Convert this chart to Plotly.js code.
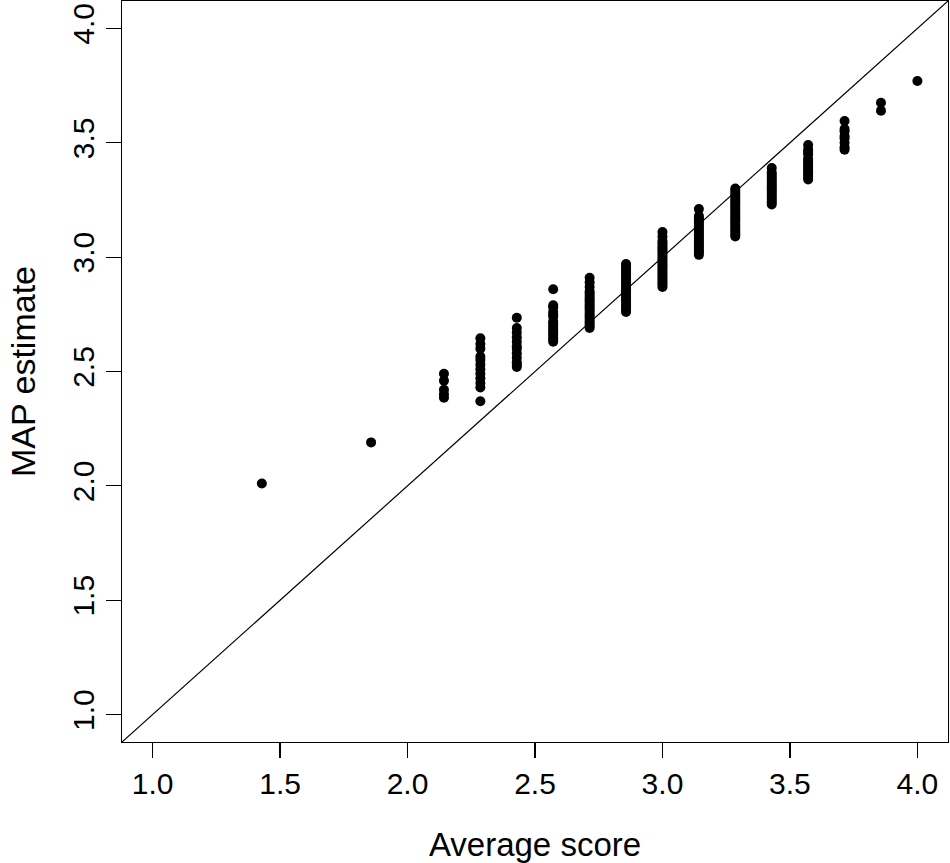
<!DOCTYPE html>
<html>
<head>
<meta charset="utf-8">
<script src="https://cdn.plot.ly/plotly-3.0.1.min.js"></script>
<style>html,body{margin:0;padding:0;background:#fff;}#chart{width:950px;height:863px;}</style>
</head>
<body>
<div id="chart"></div>
<script>
// Average score values (one per column of points)
const avgScore = [1.4286, 1.8571, 2.1429, 2.2857, 2.4286, 2.5714, 2.7143, 2.8571,
                  3.0000, 3.1429, 3.2857, 3.4286, 3.5714, 3.7143, 3.8571, 4.0000];

// MAP estimates for each average score column
const map_1_43 = [2.01];
const map_1_86 = [2.19];
const map_2_14 = [2.49, 2.46, 2.42, 2.40, 2.385];
const map_2_29 = [2.645, 2.62, 2.60, 2.565, 2.55, 2.53, 2.51, 2.49, 2.47, 2.45, 2.43, 2.37];
const map_2_43 = [2.735, 2.69, 2.67, 2.65, 2.63, 2.61, 2.60, 2.58, 2.56, 2.54, 2.53, 2.52];
const map_2_57 = [2.86, 2.79, 2.78, 2.76, 2.75, 2.74, 2.72, 2.71, 2.70, 2.69, 2.68, 2.67, 2.66, 2.65, 2.64, 2.63];
const map_2_71 = [2.91, 2.89, 2.87, 2.85, 2.84, 2.83, 2.82, 2.81, 2.80, 2.79, 2.78, 2.77, 2.76, 2.75, 2.74, 2.73, 2.72, 2.71, 2.70, 2.69];
const map_2_86 = [2.97, 2.96, 2.95, 2.94, 2.93, 2.92, 2.91, 2.90, 2.89, 2.88, 2.87, 2.86, 2.85, 2.84, 2.83, 2.82, 2.81, 2.80, 2.79, 2.78, 2.77, 2.76];
const map_3_00 = [3.11, 3.09, 3.07, 3.06, 3.05, 3.04, 3.03, 3.02, 3.01, 3.00, 2.99, 2.98, 2.97, 2.96, 2.95, 2.94, 2.93, 2.92, 2.91, 2.90, 2.89, 2.88, 2.87];
const map_3_14 = [3.21, 3.18, 3.17, 3.16, 3.15, 3.14, 3.13, 3.12, 3.11, 3.10, 3.09, 3.08, 3.07, 3.06, 3.05, 3.04, 3.03, 3.02, 3.01];
const map_3_29 = [3.30, 3.29, 3.28, 3.27, 3.26, 3.25, 3.24, 3.23, 3.22, 3.21, 3.20, 3.19, 3.18, 3.17, 3.16, 3.15, 3.14, 3.13, 3.12, 3.11, 3.10, 3.09];
const map_3_43 = [3.39, 3.37, 3.36, 3.35, 3.34, 3.33, 3.32, 3.31, 3.30, 3.29, 3.28, 3.27, 3.26, 3.25, 3.24, 3.23];
const map_3_57 = [3.49, 3.47, 3.46, 3.45, 3.43, 3.42, 3.41, 3.40, 3.39, 3.38, 3.37, 3.36, 3.35, 3.34];
const map_3_71 = [3.595, 3.56, 3.55, 3.53, 3.52, 3.50, 3.48, 3.47];
const map_3_86 = [3.675, 3.64];
const map_4_00 = [3.77];

const mapColumns = [map_1_43, map_1_86, map_2_14, map_2_29, map_2_43, map_2_57, map_2_71, map_2_86,
                    map_3_00, map_3_14, map_3_29, map_3_43, map_3_57, map_3_71, map_3_86, map_4_00];

const tickVals = [1.0, 1.5, 2.0, 2.5, 3.0, 3.5, 4.0];
const tickText = ["1.0", "1.5", "2.0", "2.5", "3.0", "3.5", "4.0"];
const axisRange = [0.88, 4.12];
// identity reference line y = x
const identityLine = [0.88, 4.12];

const xs = [], ys = [];
mapColumns.forEach((col, i) => col.forEach(v => { xs.push(avgScore[i]); ys.push(v); }));

const font = "Liberation Sans, Arial, Helvetica, sans-serif";

const traces = [
  {x: identityLine, y: identityLine, mode: 'lines', type: 'scatter',
   line: {color: '#000', width: 1.2}, hoverinfo: 'skip'},
  {x: xs, y: ys, mode: 'markers', type: 'scatter',
   marker: {color: '#000', size: 10, line: {width: 0}}}
];

const axisCommon = {
  range: axisRange, tickmode: 'array', tickvals: tickVals, ticktext: tickText,
  showgrid: false, zeroline: false, showline: true, mirror: true,
  linecolor: '#000', linewidth: 1.2, ticks: 'outside', ticklen: 15,
  tickcolor: '#000', tickwidth: 1.2,
  tickfont: {family: font, size: 30, color: '#000'}
};

const layout = {
  width: 950, height: 863,
  margin: {l: 122, r: 2, t: 1, b: 121},
  paper_bgcolor: '#fff', plot_bgcolor: '#fff',
  showlegend: false,
  font: {family: font, color: '#000'},
  xaxis: Object.assign({}, axisCommon, {
    title: {text: 'Average score', font: {family: font, size: 33, color: '#000'}, standoff: 33}
  }),
  yaxis: Object.assign({}, axisCommon, {
    tickangle: -90,
    title: {text: 'MAP estimate', font: {family: font, size: 34, color: '#000'}, standoff: 20}
  })
};

Plotly.newPlot('chart', traces, layout, {displayModeBar: false, staticPlot: true});
</script>
</body>
</html>
